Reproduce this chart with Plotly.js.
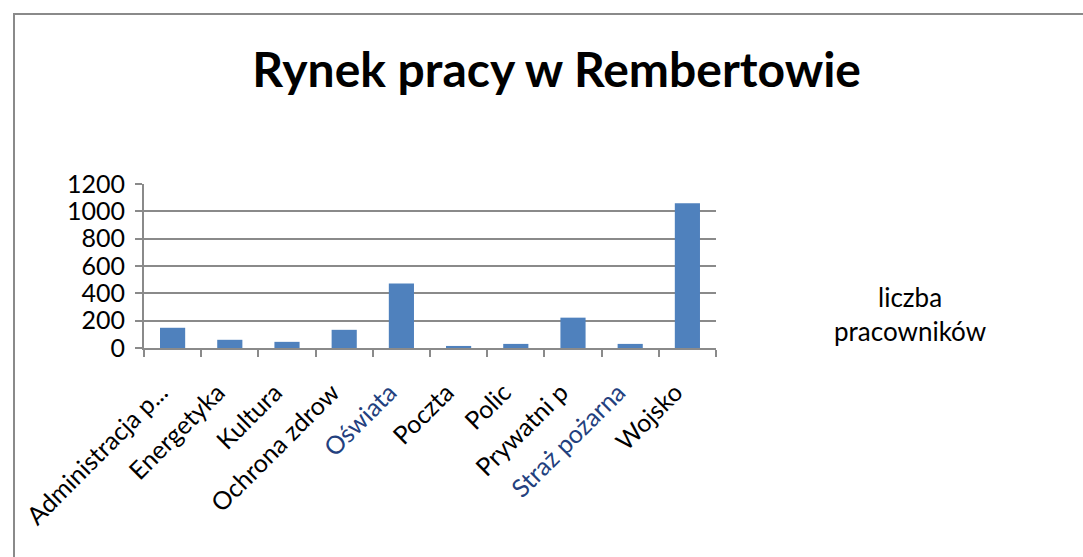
<!DOCTYPE html>
<html>
<head>
<meta charset="utf-8">
<script src="https://cdn.plot.ly/plotly-3.0.1.min.js"></script>
<style>
  html, body { margin: 0; padding: 0; background: #ffffff; }
  #wrap { position: relative; width: 1083px; height: 557px; overflow: hidden; background: #fff; }
  #frame { position: absolute; left: 13px; top: 13px; width: 1200px; height: 700px;
           border-left: 2px solid #8a8a8a; border-top: 2px solid #8a8a8a; }
  #chart { position: absolute; left: 0; top: 0; width: 1083px; height: 557px; }
</style>
</head>
<body>
<div id="wrap">
  <div id="frame"></div>
  <div id="chart"></div>
</div>
<script>
// ---- data ----
const chartTitle = "Rynek pracy w Rembertowie";
const seriesName = "liczba<br>pracowników";
const categories = ["Administracja publiczna", "Energetyka", "Kultura", "Ochrona zdrowia", "Oświata",
                    "Poczta", "Policja", "Prywatni przedsiębiorcy", "Straż pożarna", "Wojsko"];
const tickLabels = ["Administracja p...", "Energetyka", "Kultura", "Ochrona zdrow", "Oświata",
                    "Poczta", "Polic", "Prywatni p", "Straż pożarna", "Wojsko"];
const highlighted = ["Oświata", "Straż pożarna"];
const values = [148, 60, 45, 133, 472, 15, 30, 222, 30, 1060];
const yTicks = [0, 200, 400, 600, 800, 1000, 1200];

// ---- chart ----
const FONT = "Lato, 'Open Sans', sans-serif";
const tickText = tickLabels.map(t => highlighted.includes(t)
  ? '<span style="color:#23407e">' + t + '</span>' : t);

const trace = {
  type: "bar",
  x: categories,
  y: values,
  name: seriesName,
  marker: { color: "#4F81BD", line: { width: 0 } },
  hoverinfo: "x+y",
  showlegend: false
};

const layout = {
  width: 1083,
  height: 557,
  margin: { l: 144, r: 367, t: 184, b: 209, pad: 0 },
  paper_bgcolor: "rgba(0,0,0,0)",
  plot_bgcolor: "rgba(0,0,0,0)",
  bargap: 0.56,
  font: { family: FONT, color: "#000000" },
  title: {
    text: "<b>" + chartTitle + "</b>",
    font: { family: FONT, size: 48, color: "#000000" },
    x: 0.514, xanchor: "center",
    y: 0.874, yanchor: "middle"
  },
  xaxis: {
    type: "category",
    tickmode: "array",
    tickvals: categories,
    ticktext: tickText,
    tickangle: -45,
    tickfont: { family: FONT, size: 25, color: "#000000" },
    ticks: "outside",
    tickson: "boundaries",
    ticklen: 7,
    tickwidth: 2,
    tickcolor: "#8a8a8a",
    ticklabelshift: -12,
    ticklabelstandoff: 18,
    showline: true,
    linecolor: "#8a8a8a",
    linewidth: 2,
    showgrid: false,
    zeroline: false,
    automargin: false,
    fixedrange: true
  },
  yaxis: {
    range: [0, 1200],
    tickmode: "array",
    tickvals: yTicks,
    ticktext: yTicks.map(String),
    tickfont: { family: FONT, size: 25, color: "#000000" },
    ticks: "outside",
    ticklen: 7,
    tickwidth: 2,
    tickcolor: "#8a8a8a",
    ticklabelstandoff: 5,
    showline: true,
    linecolor: "#8a8a8a",
    linewidth: 2,
    showgrid: true,
    gridcolor: "#8a8a8a",
    gridwidth: 1.5,
    zeroline: false,
    automargin: false,
    fixedrange: true
  },
  annotations: [{
    xref: "paper", yref: "paper",
    x: 1.339, y: 0.207,
    xanchor: "center", yanchor: "middle",
    text: seriesName,
    showarrow: false,
    align: "center",
    font: { family: FONT, size: 26, color: "#000000" }
  }]
};

Plotly.newPlot("chart", [trace], layout, { displayModeBar: false });
</script>
</body>
</html>
